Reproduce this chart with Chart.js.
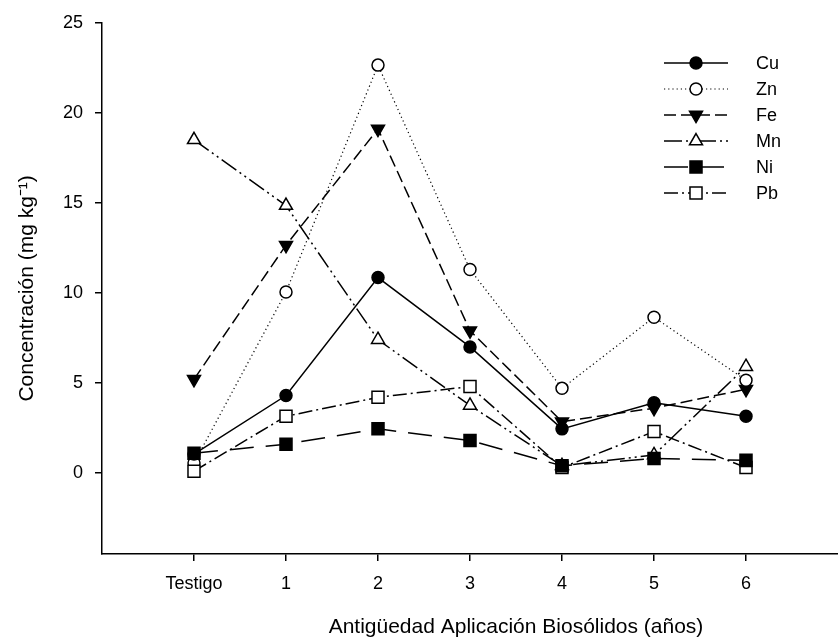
<!DOCTYPE html>
<html>
<head>
<meta charset="utf-8">
<script src="https://cdn.jsdelivr.net/npm/chart.js@4/dist/chart.umd.min.js"></script>
<style>
  html, body { margin: 0; padding: 0; background: #fff; overflow: hidden; }
  #wrap { width: 838px; height: 643px; overflow: hidden; position: relative; }
  #chart { position: absolute; left: 0; top: 0; }
</style>
</head>
<body>
<div id="wrap"><canvas id="chart" width="940" height="643"></canvas></div>
<script>
// -------------------------------
// DATA
// -------------------------------
const categories = ["Testigo", "1", "2", "3", "4", "5", "6"];
const yTicks = [0, 5, 10, 15, 20, 25];

const cu = [1.05, 4.3, 10.85, 7.0, 2.45, 3.9, 3.15];
const zn = [0.55, 10.05, 22.65, 11.3, 4.7, 8.65, 5.15];
const fe = [5.2, 12.65, 19.1, 7.9, 2.85, 3.6, 4.65];
const mn = [18.5, 14.85, 7.4, 3.75, 0.4, 1.0, 5.9];
const ni = [1.1, 1.6, 2.45, 1.8, 0.4, 0.8, 0.7];
const pb = [0.1, 3.15, 4.2, 4.8, 0.3, 2.3, 0.3];

const FONT = "'Liberation Sans', Arial, Helvetica, sans-serif";

const pts = arr => arr.map((v, i) => ({ x: i, y: v }));

function series(label, values, dash, style, filled, rotation, order) {
  return {
    label,
    order,
    data: pts(values),
    borderColor: "#000",
    borderWidth: dash.length && dash[0] < 2 ? 1.2 : 1.5,
    borderDash: dash,
    pointStyle: style,
    pointRotation: rotation || 0,
    pointRadius: style === "rect" ? 8.5 : (style === "triangle" ? 7.5 : 6),
    pointBorderWidth: 1.5,
    pointBorderColor: "#000",
    pointBackgroundColor: filled ? "#000" : "#fff",
    tension: 0,
    fill: false
  };
}

const datasets = [
  series("Cu", cu, [], "circle", true, 0, 1),
  series("Zn", zn, [1.2, 3], "circle", false, 0, 3),
  series("Fe", fe, [12, 5], "triangle", true, 180, 4),
  series("Mn", mn, [18, 4, 2, 4, 2, 4], "triangle", false, 0, 5),
  series("Ni", ni, [24, 12], "rect", true, 0, 0),
  series("Pb", pb, [14, 4, 2, 4], "rect", false, 0, 2)
];

// -------------------------------
// LEGEND (line sample + marker)
// -------------------------------
function marker(ctx, ds, x, y) {
  const r = ds.pointRadius;
  ctx.save();
  ctx.setLineDash([]);
  ctx.lineWidth = ds.pointBorderWidth;
  ctx.strokeStyle = "#000";
  ctx.fillStyle = ds.pointBackgroundColor;
  ctx.beginPath();
  if (ds.pointStyle === "circle") {
    ctx.arc(x, y, r, 0, Math.PI * 2);
  } else if (ds.pointStyle === "rect") {
    const s = r * Math.SQRT1_2;
    ctx.rect(x - s, y - s, 2 * s, 2 * s);
  } else {
    const dir = ds.pointRotation === 180 ? -1 : 1;
    const h = r * Math.sqrt(3) / 2;
    ctx.moveTo(x, y - dir * r);
    ctx.lineTo(x + h, y + dir * r / 2);
    ctx.lineTo(x - h, y + dir * r / 2);
    ctx.closePath();
  }
  ctx.fill();
  ctx.stroke();
  ctx.restore();
}

const legendBox = {
  id: "legendBox",
  afterDraw(chart) {
    const ctx = chart.ctx;
    chart.data.datasets.forEach((ds, i) => {
      const y = 63 + i * 26;
      ctx.save();
      ctx.strokeStyle = "#000";
      ctx.lineWidth = ds.borderWidth;
      ctx.setLineDash(ds.borderDash);
      ctx.beginPath();
      ctx.moveTo(664, y);
      ctx.lineTo(728, y);
      ctx.stroke();
      ctx.restore();
      marker(ctx, ds, 696, y);
      ctx.save();
      ctx.fillStyle = "#000";
      ctx.font = "18px " + FONT;
      ctx.textBaseline = "middle";
      ctx.fillText(ds.label, 756, y + 1);
      ctx.restore();
    });
  }
};

new Chart(document.getElementById("chart").getContext("2d"), {
  type: "line",
  data: { datasets },
  options: {
    responsive: false,
    animation: false,
    devicePixelRatio: 1,
    layout: { padding: { left: 15, top: 19, right: 1, bottom: 0 } },
    plugins: {
      legend: { display: false },
      tooltip: { enabled: false }
    },
    scales: {
      x: {
        type: "linear",
        min: -1,
        max: 8,
        afterBuildTicks: s => { s.ticks = categories.map((c, i) => ({ value: i })); },
        afterFit: s => { s.height = 89; },
        ticks: {
          autoSkip: false,
          maxRotation: 0,
          padding: 12,
          color: "#000",
          font: { family: FONT, size: 18 },
          callback: v => categories[v]
        },
        grid: { drawOnChartArea: false, drawTicks: true, tickLength: 7, color: "#000", lineWidth: 1.5 },
        border: { color: "#000", width: 1.5 },
        title: {
          display: true,
          text: "Antigüedad Aplicación Biosólidos (años)",
          color: "#000",
          font: { family: FONT, size: 21 },
          padding: { top: 0, bottom: 3 }
        }
      },
      y: {
        min: -4.5,
        max: 25,
        afterBuildTicks: s => { s.ticks = yTicks.map(v => ({ value: v })); },
        afterFit: s => { s.width = 87; },
        ticks: {
          padding: 12,
          color: "#000",
          font: { family: FONT, size: 18 }
        },
        grid: { drawOnChartArea: false, drawTicks: true, tickLength: 7, color: "#000", lineWidth: 1.5 },
        border: { color: "#000", width: 1.5 },
        title: {
          display: true,
          text: "Concentración (mg kg⁻¹)",
          color: "#000",
          font: { family: FONT, size: 21 },
          padding: { top: 0, bottom: 0 }
        }
      }
    }
  },
  plugins: [legendBox]
});
</script>
</body>
</html>
